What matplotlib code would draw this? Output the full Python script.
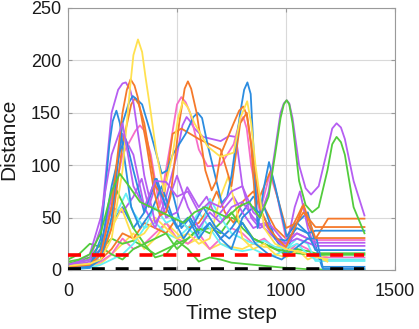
import matplotlib
matplotlib.use("Agg")
import matplotlib.pyplot as plt

plt.rcParams['font.family'] = ['Liberation Sans', 'DejaVu Sans']

BLUE = '#2b8ce0'; ORANGE = '#f5792a'; YELLOW = '#ffe14f'; PURPLE = '#b65ef2'
GREEN = '#52cc3c'; CYAN = '#66f0f5'; PINK = '#f76ec8'

# ---- data (time step, distance) ----
t_y1 = [0,100,150,200,250,285,300,321,340,355,380,404,440,480,505,527,550,580,640,700,760,790,822,840,860,900,950,1000,1050,1100,1150,1190]
d_y1 = [4,6,10,30,95,175,205,220,208,185,150,114,75,110,145,161,155,140,118,108,112,145,161,140,100,40,25,20,18,15,12,10]

t_o1 = [0,100,150,200,250,270,287,305,320,360,395,422,450,470,510,535,550,565,590,630,659,680,700,760,785,804,820,840,880,920,960,1000,1050,1080,1110,1135,1360]
d_o1 = [3,5,15,60,150,172,182,176,165,120,75,52,55,70,140,173,180,173,150,95,76,85,110,140,152,156,148,120,60,40,30,22,45,62,45,30.5,30.5]

t_b3 = [0,100,150,200,250,280,297,315,340,380,430,455,480,540,575,595,615,640,705,730,750,790,808,823,838,850,870,900,922,950,1003,1050,1100,1135,1360]
d_b3 = [2,3,10,50,140,160,166,163,158,130,92,95,110,130,146,150,145,120,64,70,90,150,172,179,168,120,40,80,103,80,32,45,35,19,19]

t_b1 = [0,100,150,190,205,222,238,250,290,330,380,430,480,530,580,620,680,740,800,860,920,980,1040,1100,1140,1170,1360]
d_b1 = [1,3,30,120,142,152,140,120,60,40,55,80,50,30,45,60,40,30,45,25,15,10,20,30,30,1,1]

t_b2 = [0,100,150,200,240,265,300,350,400,450,500,550,600,650,700,750,800,850,900,950,1000,1050,1100,1135,1360]
d_b2 = [2,5,20,80,115,125,95,55,87,60,40,50,30,45,30,20,50,60,50,30,28,40,35,37.5,37.5]

t_p2 = [0,100,150,200,230,250,265,285,300,350,400,450,500,550,600,650,700,750,800,850,900,950,1000,1050,1100,1135,1360]
d_p2 = [5,10,40,150,172,178,179,172,160,90,45,60,90,60,40,55,45,60,65,50,40,30,25,35,30,26,26]

t_o2 = [0,100,150,200,250,290,307,325,350,400,440,480,520,560,600,650,700,750,790,820,840,860,900,930,960,1000,1050,1080,1100,1135,1360]
d_o2 = [3,5,10,40,120,158,164,158,140,80,70,130,135,130,125,120,115,80,140,150,120,60,80,95,70,40,45,55,50,41,41]

t_k1 = [0,100,150,200,250,310,330,350,380,420,470,500,520,540,560,600,640,700,760,785,804,820,840,880,926,960,1000,1050,1100,1135,1360]
d_k1= [3,5,15,60,110,133,138,133,110,60,120,158,165,160,150,115,99,100,120,140,146,135,100,55,92,70,30,35,30,28.6,28.6]

t_p3 = [0,100,150,200,250,300,350,400,450,500,525,544,560,580,620,660,700,740,770,800,840,880,920,960,1000,1050,1100,1135,1360]
d_p3 = [4,8,20,70,130,110,60,40,70,110,138,146,142,135,127,125,123,128,127,80,50,40,45,35,25,30,26,23,23]

t_y2 = [0,100,150,200,246,300,350,400,450,500,550,600,650,700,735,770,800,850,900,950,1000,1050,1100,1150,1190]
d_y2 = [2,4,10,40,59,29,35,50,40,30,35,25,30,70,89,60,30,20,25,15,12,18,15,12,8]

t_g1 = [0,50,100,150,200,237,280,330,380,430,480,530,580,630,680,730,780,830,880,920,950,975,990,1003,1015,1030,1060,1090,1120,1150,1190,1212,1232,1252,1270,1310,1360]
d_g1 = [8,10,15,35,75,92,80,65,60,55,50,45,55,60,55,50,60,65,50,70,110,145,158,162,158,140,85,62,55,60,95,120,127,122,110,60,35]

t_p1 = [0,50,100,150,200,250,300,350,400,450,500,550,600,650,700,750,800,850,880,920,950,975,990,1003,1015,1030,1060,1090,1115,1150,1190,1212,1232,1252,1270,1310,1360]
d_p1 = [5,8,15,50,110,140,80,60,85,84,70,75,55,65,60,75,80,55,50,75,115,150,159,162,159,145,100,78,72,80,115,135,140,136,125,85,52]

t_g2 = [0,100,150,200,223,260,300,350,400,450,500,550,600,650,700,750,800,850,900,950,1000,1050,1100,1135,1360]
d_g2 = [6,12,25,60,76,60,40,25,30,35,20,30,40,35,45,55,40,30,25,20,18,16,15,14.5,14.5]

t_c1 = [0,100,150,200,266,300,350,400,450,500,550,600,651,700,750,800,850,900,950,1000,1050,1100,1135,1360]
d_c1 = [1,3,10,45,73,55,40,60,45,50,40,30,68,50,35,30,25,28,22,20,30,25,8.6,8.6]

t_p4 = [0,100,150,200,250,300,338,370,407,450,500,547,600,636,680,720,760,800,850,900,950,1000,1040,1064,1100,1135]
d_p4 = [3,6,20,60,55,70,87,60,84,50,55,79,60,70,50,60,70,55,40,45,30,20,60,75,40,20]

t_b5 = [0,100,150,200,250,300,350,407,450,475,520,560,600,650,700,750,800,850,900,950,1000,1050,1100,1140,1165,1360]
d_b5 = [1,2,15,45,60,40,55,87,60,78,40,50,35,45,30,40,55,70,60,30,15,45,55,20,3,3]

t_o3 = [0,100,150,200,250,300,350,400,450,500,550,600,650,682,720,760,800,850,900,950,1000,1050,1080,1100,1133,1193,1360]
d_o3 = [2,5,10,20,35,30,45,40,35,50,40,45,60,75,55,45,65,75,60,40,30,50,63,45,29,49,49]

t_c2 = [0,100,150,200,250,300,350,400,450,500,550,600,650,700,750,800,850,900,950,1000,1050,1100,1135,1360]
d_c2 = [0,2,5,10,15,25,40,45,35,30,40,55,40,25,20,18,20,15,14,20,25,15,10,10]

t_g3 = [0,50,100,150,200,250,300,350,400,450,500,550,600,650,700,750,800,850,900,950,1000,1050,1110,1360]
d_g3 = [10,15,25,22,15,10,20,25,12,15,28,20,8,12,10,7,6,5,4,3,2,1.5,0.5,0.5]

t_g4 = [0,100,150,200,250,300,350,400,450,500,550,600,650,700,750,800,850,900,950,1000,1050,1100,1135,1360]
d_g4 = [5,10,20,30,25,28,22,15,20,25,30,38,40,35,50,45,30,25,20,15,20,18,16,16]

t_k2 = [0,100,150,200,250,300,350,400,450,500,550,600,650,700,750,800,850,900,950,1000,1050,1100,1135,1360]
d_k2 = [2,4,8,15,30,20,25,35,45,30,25,35,20,30,40,35,25,30,20,15,25,20,12,12]

t_y3 = [0,100,150,200,250,300,350,400,450,500,550,600,650,700,750,800,850,900,950,1000,1050,1100,1150,1190]
d_y3 = [2,4,6,15,25,35,20,30,45,35,25,30,20,25,22,20,25,22,22,22,20,10,15,12]

t_ref = [0, 1360]
d_red = [14.5, 14.5]
d_black = [1, 1]

series = [
    (t_y3, d_y3, YELLOW), (t_k2, d_k2, PINK), (t_g4, d_g4, GREEN), (t_g3, d_g3, GREEN),
    (t_c2, d_c2, CYAN), (t_o3, d_o3, ORANGE), (t_b5, d_b5, BLUE), (t_p4, d_p4, PURPLE),
    (t_c1, d_c1, CYAN), (t_g2, d_g2, GREEN), (t_y2, d_y2, YELLOW), (t_p3, d_p3, PURPLE),
    (t_k1, d_k1, PINK), (t_o2, d_o2, ORANGE), (t_p2, d_p2, PURPLE), (t_b2, d_b2, BLUE),
    (t_b1, d_b1, BLUE), (t_b3, d_b3, BLUE), (t_o1, d_o1, ORANGE), (t_y1, d_y1, YELLOW),
    (t_p1, d_p1, PURPLE), (t_g1, d_g1, GREEN),
]

fig = plt.figure(figsize=(4.19, 3.29), dpi=100)
ax = fig.add_axes([68/419, 59/329, 327/419, 262/329])

for t, d, c in series:
    ax.plot(t, d, color=c, lw=1.3, solid_joinstyle='round')

ax.plot(t_ref, d_red, color='#ff0000', lw=2.6, dashes=(3.6, 3.0), zorder=5)
ax.plot(t_ref, d_black, color='#000000', lw=2.6, dashes=(3.6, 3.0), zorder=5)

ax.set_xlim(0, 1500)
ax.set_ylim(0, 250)
ax.set_xticks([0, 500, 1000, 1500])
ax.set_yticks([0, 50, 100, 150, 200, 250])
ax.grid(True, color='#d9d9d9', lw=0.8)
ax.set_axisbelow(True)
for s in ax.spines.values():
    s.set_color('#9a9a9a')
    s.set_linewidth(0.8)
ax.tick_params(direction='in', length=3, color='#9a9a9a', labelsize=13,
               labelcolor='#1a1a1a', top=True, right=True)
ax.tick_params(axis='x', pad=9)
ax.tick_params(axis='y', pad=5)
ax.set_xlabel('Time step', fontsize=15, color='#1a1a1a', labelpad=3)
ax.set_ylabel('Distance', fontsize=15, color='#1a1a1a', labelpad=9)

fig.savefig('out.png', dpi=100)
